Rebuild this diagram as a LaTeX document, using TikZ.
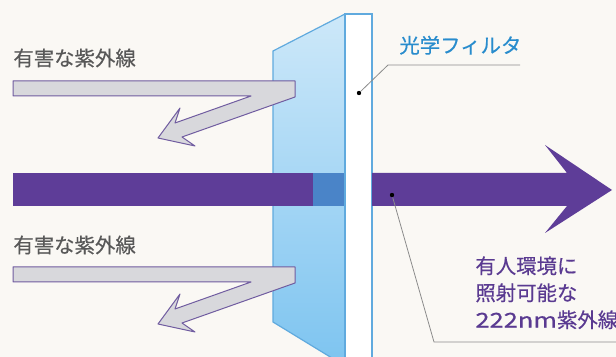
\documentclass[tikz,border=0pt]{standalone}
\usepackage{fontspec}
\setmainfont{Noto Sans CJK JP}[FakeBold=0.4]
\usepackage{tikz}
\usetikzlibrary{positioning}

\definecolor{beam}{RGB}{94,61,152}
\definecolor{beamblue}{RGB}{74,132,200}
\definecolor{panelline}{RGB}{96,170,222}
\definecolor{paneltop}{RGB}{205,232,249}
\definecolor{panelbottom}{RGB}{125,196,240}
\definecolor{uvgray}{RGB}{216,216,220}
\definecolor{uvline}{RGB}{112,92,160}
\definecolor{textgray}{RGB}{88,88,88}
\definecolor{textblue}{RGB}{40,140,205}
\definecolor{textpurple}{RGB}{90,58,145}
\definecolor{leader}{RGB}{140,140,140}
\definecolor{bg}{RGB}{250,248,244}

\begin{document}
\begin{tikzpicture}[x=0.5pt, y=-0.5pt,
  uvray/.style={fill=uvgray, draw=uvline, line width=0.5pt, line join=round},
  labelfont/.style={font=\fontsize{10.2}{13.5}\selectfont, inner sep=0pt},
  uvtext/.style={labelfont, text=textgray, anchor=west},
  leaderline/.style={draw=leader, line width=0.4pt},
  dotnode/.style={circle, fill=black, inner sep=0pt, minimum size=2.2pt}]

%background and page size
\fill[bg] (0,0) rectangle (616,357);
\useasboundingbox (0,0) rectangle (616,357);

%filter panel in perspective
\path[draw=panelline, line width=0.6pt, top color=paneltop, bottom color=panelbottom]
  (273,51) -- (345,14) -- (345,366) -- (273,322) -- cycle;

%beam in front of and behind the panel
\fill[beam] (13,173) rectangle (313,206);
\fill[beamblue] (313,173) rectangle (345,206);

%edge of the filter
\draw[panelline, fill=white, line width=0.6pt] (345,14) rectangle (372,366);

%beam after the filter
\fill[beam] (372,173) -- (567,173) -- (545,145) -- (612,190)
  -- (545,233) -- (567,206) -- (372,206) -- cycle;

%harmful rays, reflected
\foreach \dy in {0,186} {
  \draw[uvray, shift={(0,\dy)}] (13,81) -- (295,81) -- (295,97) -- (182,137)
    -- (195,146) -- (158,138) -- (180,108) -- (175,123) -- (251,96) -- (13,96) -- cycle;
}
\node[uvtext] (uvtext1) at (13,58) {有害な紫外線};
\node[uvtext] (uvtext2) at (13,245) {有害な紫外線};

%label of the filter
\node[dotnode] (filterdot) at (359,93) {};
\coordinate (filterbend) at (388,65);
\coordinate (filterend) at (520,65);
\draw[leaderline] (filterdot) -- (filterbend) -- (filterend);
\node[labelfont, text=textblue, anchor=base west] (filtertext) at (399,53) {光学フィルタ};

%label of the beam
\node[dotnode] (beamdot) at (392,195) {};
\coordinate (beambend) at (434,342);
\coordinate (beamend) at (620,342);
\draw[leaderline] (beamdot) -- (beambend) -- (beamend);
\node[labelfont, text=textpurple, align=left, anchor=north west] (beamtext) at (475,256)
  {有人環境に\\照射可能な\\\scalebox{1.25}[1]{222nm}紫外線};

\end{tikzpicture}
\end{document}
